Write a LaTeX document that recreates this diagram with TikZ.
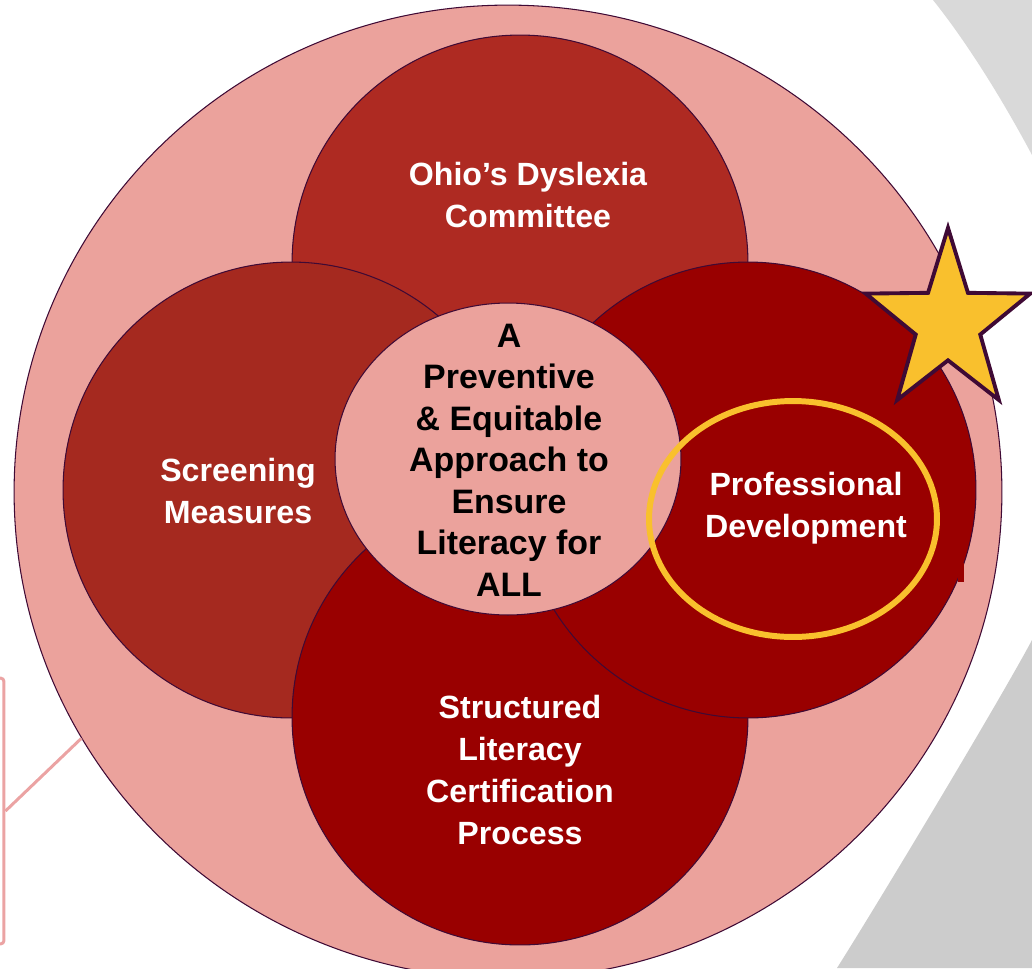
\documentclass[tikz,border=0pt]{standalone}
\usepackage{fontspec}
\setmainfont{Liberation Sans}
\usetikzlibrary{shapes.geometric}

\definecolor{blush}{HTML}{EBA29C}
\definecolor{brick}{HTML}{AE2A22}
\definecolor{rust}{HTML}{A5291F}
\definecolor{darkred}{HTML}{990000}
\definecolor{plum}{HTML}{3F0A35}
\definecolor{gold}{HTML}{F9C02D}
\definecolor{notepink}{HTML}{EBA3A3}
\definecolor{greytop}{HTML}{D9D9D9}
\definecolor{greybot}{HTML}{CCCCCC}

\begin{document}
\begin{tikzpicture}[x=0.02cm, y=-0.02cm,
    bubble/.style={circle, draw=plum, line width=0.6pt, minimum size=9.12cm, inner sep=0pt},
    ring/.style={ellipse, draw=plum, line width=0.6pt, fill=blush, minimum width=19.76cm, minimum height=19.48cm, inner sep=0pt},
    hub/.style={ellipse, draw=plum, line width=0.6pt, fill=blush, minimum width=6.92cm, minimum height=6.24cm, inner sep=0pt},
    halo/.style={ellipse, draw=gold, line width=3.4pt, minimum width=5.76cm, minimum height=4.72cm, inner sep=0pt},
    starmark/.style={star, star points=5, star point ratio=2.55, draw=plum, line width=2.2pt, fill=gold, minimum size=3.46cm, inner sep=0pt, yscale=1.1},
    notebox/.style={rectangle, draw=notepink, line width=1.7pt, rounded corners=2pt, minimum width=2cm, minimum height=5.32cm},
    noteline/.style={draw=notepink, line width=1.7pt},
    whitetext/.style={text=white, align=center, font=\bfseries\fontsize{18.3}{23.8}\selectfont},
    hubtext/.style={text=black, align=center, font=\bfseries\fontsize{19.3}{23.6}\selectfont}
]

\useasboundingbox (0,0) rectangle (1032,968);
\clip (0,0) rectangle (1032,968);

% grey swooshes in the corners
\fill[greytop] (933,0) .. controls (965,40) and (1000,95) .. (1032,155) -- (1032,0) -- cycle;
\fill[greybot] (1032,640) .. controls (1000,700) and (880,900) .. (837,968) -- (1032,968) -- cycle;

% side note frame
\node[notebox] (note) at (-46,811) {};

% outer ring
\node[ring] (outer) at (508,492) {};
\draw[noteline] (note.east) -- (outer.210);

% the four petals
\node[bubble, fill=brick] (odc) at (520,263) {};
\node[bubble, fill=rust] (screen) at (291,490) {};
\node[bubble, fill=darkred] (slcp) at (520,717) {};
\node[bubble, fill=darkred] (pd) at (748,490) {};
\fill[darkred] (958,563) rectangle (964,582);

% centre
\node[hub] (hub) at (508,459) {};

% highlight
\node[halo] (focus) at (793,519) {};
\node[starmark] (star) at (948,323) {};

% labels
\node[whitetext] (odctext) at (528,195) {Ohio’s Dyslexia\\Committee};
\node[whitetext] (screentext) at (238,491) {Screening\\Measures};
\node[whitetext] (pdtext) at (806,508) {Professional\\Development};
\node[whitetext] (slcptext) at (520,770) {Structured\\Literacy\\Certification\\Process};
\node[hubtext] (hubtext) at (509,460) {A\\Preventive\\\& Equitable\\Approach to\\Ensure\\Literacy for\\ALL};

\end{tikzpicture}
\end{document}
